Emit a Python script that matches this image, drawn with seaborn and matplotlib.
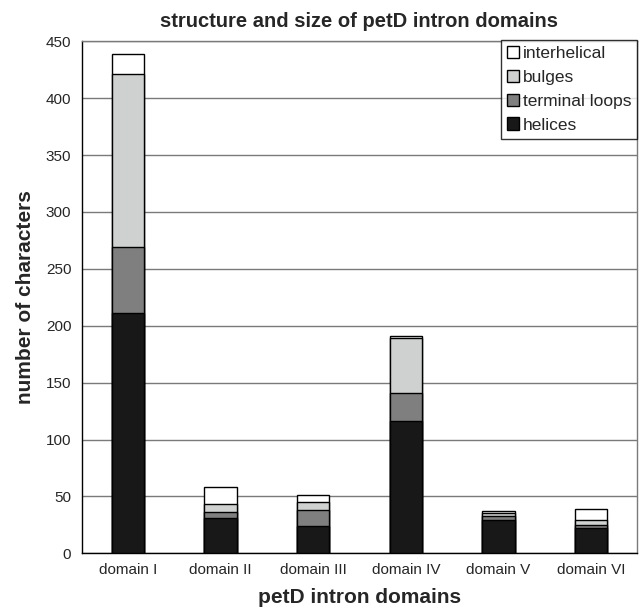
import numpy as np
import pandas as pd
import seaborn as sns
import matplotlib.pyplot as plt
from matplotlib.patches import Patch

# values
domains = ['domain I', 'domain II', 'domain III', 'domain IV', 'domain V', 'domain VI']
helices = [211, 31, 24, 116, 29, 22]
terminal_loops = [58, 5, 14, 25, 4, 3]
bulges = [152, 7, 7, 48, 2, 4]
interhelical = [18, 15, 6, 2, 2, 10]

layers = ['helices', 'terminal loops', 'bulges', 'interhelical']
colors = {'helices': '#181818', 'terminal loops': '#7f7f7f',
          'bulges': '#cfd0d0', 'interhelical': '#ffffff'}

df = pd.DataFrame({'domain': domains, 'helices': helices,
                   'terminal loops': terminal_loops, 'bulges': bulges,
                   'interhelical': interhelical})
# cumulative tops, drawn from the top layer down so each one covers the rest
cum = df[layers].cumsum(axis=1)

sns.set_style('white')
plt.rcParams['font.family'] = ['Liberation Sans', 'DejaVu Sans']

fig = plt.figure(figsize=(6.4, 6.08), dpi=100)
ax = fig.add_axes([0.1277, 0.09, 0.868, 0.842])

for layer in layers[::-1]:
    sns.barplot(x=df['domain'], y=cum[layer], color=colors[layer], width=0.35,
                edgecolor='black', linewidth=1.0, saturation=1, ax=ax, zorder=3)

ax.set_ylim(0, 450)
ax.set_xlim(-0.5, 5.5)
ax.set_yticks(np.arange(0, 451, 50))
ax.yaxis.grid(True, color='#7a7a7a', linewidth=1.0, zorder=0)
ax.set_axisbelow(True)

ax.set_xticks(np.arange(-0.5, 6.0, 1), minor=True)
ax.tick_params(axis='x', which='major', length=0, labelsize=11, pad=7)
ax.tick_params(axis='x', which='minor', length=3, width=1, color='black', direction='out')
ax.tick_params(axis='y', length=3, width=1, color='black', direction='out', labelsize=11, pad=4.5)

for side in ['left', 'bottom']:
    ax.spines[side].set_color('black')
    ax.spines[side].set_linewidth(1.0)
for side in ['top', 'right']:
    ax.spines[side].set_color('#7a7a7a')
    ax.spines[side].set_linewidth(1.0)

ax.set_title('structure and size of petD intron domains', fontsize=14.5, fontweight='bold', pad=10)
ax.set_xlabel('petD intron domains', fontsize=15, fontweight='bold', labelpad=8)
ax.set_ylabel('number of characters', fontsize=15, fontweight='bold', labelpad=8)

handles = [Patch(facecolor=colors[l], edgecolor='black', linewidth=1.0, label=l)
           for l in layers[::-1]]
leg = ax.legend(handles=handles, loc='upper right', bbox_to_anchor=(1.0, 1.003),
                fontsize=12.5, frameon=True, fancybox=False, handlelength=0.7,
                handleheight=0.7, handletextpad=0.2, borderpad=0.35,
                labelspacing=0.5, borderaxespad=0)
leg.get_frame().set_edgecolor('black')
leg.get_frame().set_linewidth(1.0)

fig.savefig('out.png', dpi=100)
